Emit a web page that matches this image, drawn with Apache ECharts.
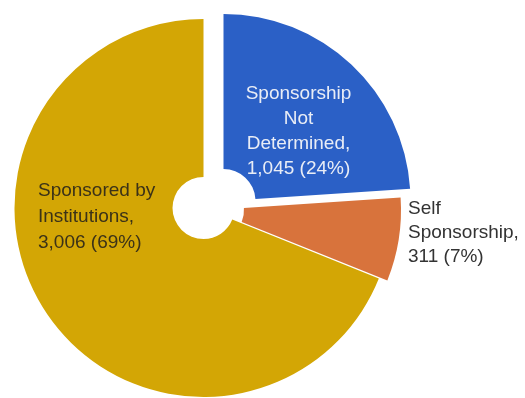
<!DOCTYPE html>
<html>
<head>
<meta charset="utf-8">
<title>Sponsorship</title>
<script src="https://cdn.jsdelivr.net/npm/echarts@6/dist/echarts.min.js"></script>
<style>
  html, body { margin: 0; padding: 0; background: #ffffff; }
  #chart { width: 525px; height: 398px; }
</style>
</head>
<body>
<div id="chart"></div>
<script>
// Sponsorship breakdown
const categories = ['Sponsorship Not Determined', 'Self Sponsorship', 'Sponsored by Institutions'];
const counts = [1045, 311, 3006];
const labelHeads = ['Sponsorship\nNot\nDetermined,', 'Self\nSponsorship,', 'Sponsored by\nInstitutions,'];

// Styling and placement of each exploded slice
const sliceColors = ['#2b60c6', '#d8733c', '#d3a605'];
const labelColors = ['#e9edf6', '#333333', '#3b3218'];
const sliceCenters = [[223.5, 201], [212, 210], [203.5, 208]];
const sliceRadii = [[32, 187], [32, 189], [31, 189]];
const labelPlacement = [
  { x: 298.5, y: 131, align: 'center', lineHeight: 25 },
  { x: 408, y: 233, align: 'left', lineHeight: 24 },
  { x: 38, y: 217, align: 'left', lineHeight: 26 }
];

const chart = echarts.init(document.getElementById('chart'), null, { renderer: 'canvas' });

// One pie per slice so each slice can be pulled out on its own;
// the other slices of each pie are left invisible.
const drawOrder = [2, 1, 0];
const series = drawOrder.map(k => ({
  type: 'pie',
  center: sliceCenters[k],
  radius: sliceRadii[k],
  startAngle: 90,
  clockwise: true,
  percentPrecision: 0,
  avoidLabelOverlap: false,
  silent: true,
  animation: false,
  data: categories.map((name, i) => ({
    name,
    value: counts[i],
    itemStyle: { color: i === k ? sliceColors[i] : 'rgba(0,0,0,0)' },
    label: { show: i === k },
    labelLine: { show: false }
  })),
  label: {
    position: 'inside',
    formatter: p => labelHeads[p.dataIndex] + '\n' + echarts.format.addCommas(p.value) + ' (' + p.percent + '%)',
    fontFamily: '"Liberation Sans", Arial, sans-serif',
    fontSize: 19,
    lineHeight: labelPlacement[k].lineHeight,
    color: labelColors[k],
    align: labelPlacement[k].align
  },
  labelLine: { show: false },
  labelLayout: () => ({
    x: labelPlacement[k].x,
    y: labelPlacement[k].y,
    align: labelPlacement[k].align,
    verticalAlign: 'middle'
  })
}));

chart.setOption({
  backgroundColor: '#ffffff',
  animation: false,
  series
});
</script>
</body>
</html>
